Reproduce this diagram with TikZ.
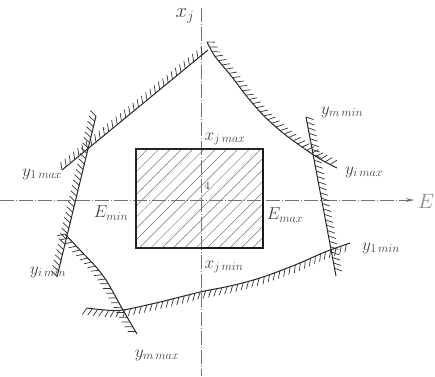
\documentclass[tikz,border=0pt]{standalone}
\usetikzlibrary{decorations.pathreplacing,patterns.meta,arrows.meta}
\begin{document}
\begin{tikzpicture}[x=1pt,y=-1pt,
  bound/.style={draw=black!85, line width=1pt},
  hatchL/.style={decoration={border, segment length=5.5pt, amplitude=8pt, angle=60}, decorate, draw=black!80, line width=0.7pt},
  hatchR/.style={decoration={border, segment length=5.5pt, amplitude=-8pt, angle=60}, decorate, draw=black!80, line width=0.7pt},
  axis/.style={draw=black!55, line width=0.5pt, dash pattern=on 14pt off 2pt on 1pt off 2pt},
  lbl/.style={font=\fontsize{17}{20}\selectfont, text=black!75, inner sep=1pt}]
\useasboundingbox (0,0) rectangle (435,376);
% axes
\coordinate (vtop) at (201,8);
\coordinate (vbot) at (201,376);
\coordinate (hleft) at (0,200);
\coordinate (hright) at (414,200);
\draw[axis] (vtop) -- (vbot);
\draw[axis, -{Stealth[length=8pt,width=4pt]}] (hleft) -- (hright);
\node[lbl, font=\fontsize{20}{22}\selectfont] (xj) at (185,16) {$x_j$};
\node[lbl, text=black!45, font=\fontsize{20}{22}\selectfont] (E) at (426,201) {$E$};
% feasible rectangle
\draw[pattern={Lines[angle=45,distance=8pt,line width=0.5pt]}, pattern color=black!55, draw=black!85, line width=1.1pt] (136,149) rectangle (263,248);
\draw[black!90, line width=1.8pt] (263,149) -- (263,248) -- (201,248);
\node[lbl] (xjmax) at (225,139) {$x_{j\,max}$};
\node[lbl] (xjmin) at (224,267) {$x_{j\,min}$};
\node[lbl] (Emin) at (111,213) {$E_{min}$};
\node[lbl] (Emax) at (285,215) {$E_{max}$};
\node[lbl, font=\fontsize{11}{12}\selectfont] (four) at (207,186) {$4$};
% constraint lines
\draw[bound] (62,170) -- (208,50);
\draw[hatchL] (62,170) -- (208,50);
\draw[bound] plot[smooth] coordinates {(207,42) (214,55) (222,65) (232,77) (248,98) (265,117) (283,133) (302,147) (320,159) (337,168)};
\draw[hatchL] (207,42) -- (214,55) -- (222,65) -- (232,77) -- (248,98) -- (265,117) -- (283,133) -- (302,147) -- (320,159) -- (337,168);
\draw[bound] (306,117) -- (336,276);
\draw[hatchL] (306,117) -- (336,276);
\draw[bound] plot[smooth] coordinates {(87,308) (105,310) (123,310) (160,302) (200,292) (230,286) (260,278) (295,265) (325,252) (350,243)};
\draw[hatchR] (87,308) -- (105,310) -- (123,310) -- (160,302) -- (200,292) -- (230,286) -- (260,278) -- (295,265) -- (325,252) -- (350,243);
\draw[bound] plot[smooth] coordinates {(65,234) (80,250) (97,268) (106,280) (113,292) (123,310) (137,334)};
\draw[hatchR] (65,234) -- (80,250) -- (97,268) -- (106,280) -- (113,292) -- (123,310) -- (137,334);
\draw[bound] (96,116) -- (57,277);
\draw[hatchR] (96,116) -- (57,277);
% labels of constraints
\node[lbl] (y1max) at (42,174) {$y_{1\,max}$};
\node[lbl] (yimax) at (364,172) {$y_{i\,max}$};
\node[lbl] (ymmin) at (342,112) {$y_{m\,min}$};
\node[lbl] (y1min) at (381,248) {$y_{1\,min}$};
\node[lbl] (yimin) at (48,272) {$y_{i\,min}$};
\node[lbl] (ymmax) at (157,355) {$y_{m\,max}$};
\end{tikzpicture}
\end{document}
